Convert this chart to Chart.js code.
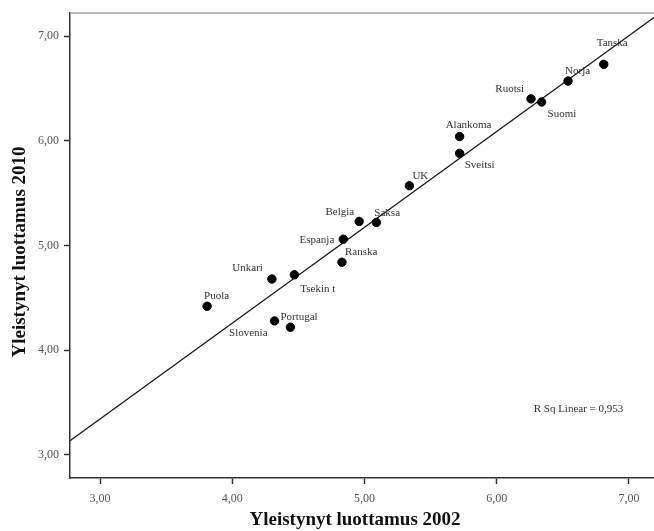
<!DOCTYPE html>
<html>
<head>
<meta charset="utf-8">
<script src="https://cdn.jsdelivr.net/npm/chart.js@4.4.1/dist/chart.umd.min.js"></script>
<style>
  html, body { margin: 0; padding: 0; background: #fff; }
  canvas { display: block; }
</style>
</head>
<body>
<canvas id="scatter" width="654" height="531"></canvas>
<script>
// values
const countries = ['Tanska', 'Norja', 'Ruotsi', 'Suomi', 'Alankoma', 'Sveitsi', 'UK', 'Belgia',
    'Saksa', 'Espanja', 'Ranska', 'Unkari', 'Tsekin t', 'Puola', 'Slovenia', 'Portugal'];
const trust2002 = [6.81, 6.54, 6.26, 6.34, 5.72, 5.72, 5.34, 4.96, 5.09, 4.84, 4.83, 4.30, 4.47, 3.81, 4.32, 4.44];
const trust2010 = [6.73, 6.57, 6.40, 6.37, 6.04, 5.88, 5.57, 5.23, 5.22, 5.06, 4.84, 4.68, 4.72, 4.42, 4.28, 4.22];
const xTickValues = [3, 4, 5, 6, 7];
const yTickValues = [3, 4, 5, 6, 7];
const rSquaredText = 'R Sq Linear = 0,953';

const X_MIN = 2.773, X_MAX = 7.19;
const Y_MIN = 2.78, Y_MAX = 7.22;

// where each country name sits next to its dot (pixels)
const labelPlacement = {
    'Tanska':   { dx: -7, dy: -21, align: 'left' },
    'Norja':    { dx: -3, dy: -10, align: 'left' },
    'Ruotsi':   { dx: -7, dy: -10, align: 'right' },
    'Suomi':    { dx: 6,  dy: 12,  align: 'left' },
    'Alankoma': { dx: -14, dy: -11, align: 'left' },
    'Sveitsi':  { dx: 5,  dy: 12,  align: 'left' },
    'UK':       { dx: 3,  dy: -10, align: 'left' },
    'Belgia':   { dx: -5, dy: -9,  align: 'right' },
    'Saksa':    { dx: -2, dy: -9,  align: 'left' },
    'Espanja':  { dx: -9, dy: 1,   align: 'right' },
    'Ranska':   { dx: 3,  dy: -10, align: 'left' },
    'Unkari':   { dx: -9, dy: -11, align: 'right' },
    'Tsekin t': { dx: 6,  dy: 14,  align: 'left' },
    'Puola':    { dx: -3, dy: -10, align: 'left' },
    'Slovenia': { dx: -7, dy: 12,  align: 'right' },
    'Portugal': { dx: -10, dy: -10, align: 'left' }
};

const points = trust2002.map((x, i) => ({ x: x, y: trust2010[i] }));

// least squares fit line
function fitLine(xs, ys) {
    const n = xs.length;
    const mx = xs.reduce((a, b) => a + b, 0) / n;
    const my = ys.reduce((a, b) => a + b, 0) / n;
    let sxy = 0, sxx = 0;
    for (let i = 0; i < n; i++) {
        sxy += (xs[i] - mx) * (ys[i] - my);
        sxx += (xs[i] - mx) * (xs[i] - mx);
    }
    const slope = sxy / sxx;
    return { slope: slope, intercept: my - slope * mx };
}
const fit = fitLine(trust2002, trust2010);
const fitPoints = [X_MIN, X_MAX].map(x => ({ x: x, y: fit.intercept + fit.slope * x }));

const fmt = v => v.toFixed(2).replace('.', ',');
const serif = '"Liberation Serif", "DejaVu Serif", serif';

const decorations = {
    id: 'decorations',
    afterDraw(chart) {
        const ctx = chart.ctx;
        const area = chart.chartArea;
        const xs = chart.scales.x, ys = chart.scales.y;
        ctx.save();

        // light top frame line
        ctx.strokeStyle = '#a8a8a8';
        ctx.lineWidth = 1.5;
        ctx.beginPath();
        ctx.moveTo(area.left, area.top);
        ctx.lineTo(area.right, area.top);
        ctx.stroke();

        // country names
        const meta = chart.getDatasetMeta(1);
        ctx.font = '11px ' + serif;
        ctx.fillStyle = '#333';
        ctx.textBaseline = 'middle';
        meta.data.forEach((el, i) => {
            const p = labelPlacement[countries[i]];
            ctx.textAlign = p.align;
            ctx.fillText(countries[i], el.x + p.dx, el.y + p.dy);
        });

        // R squared note
        ctx.textAlign = 'left';
        ctx.fillText(rSquaredText, xs.getPixelForValue(6.28), ys.getPixelForValue(3.44));

        // axis titles
        ctx.fillStyle = '#111';
        ctx.font = 'bold 19px ' + serif;
        ctx.textAlign = 'center';
        ctx.textBaseline = 'middle';
        ctx.fillText('Yleistynyt luottamus 2002', 355, 520);
        ctx.translate(20, 252);
        ctx.rotate(-Math.PI / 2);
        ctx.fillText('Yleistynyt luottamus 2010', 0, 0);
        ctx.restore();
    }
};

const axisCommon = {
    type: 'linear',
    grid: { drawOnChartArea: false, drawTicks: true, tickLength: 6, tickWidth: 1.5, color: '#333' },
    border: { display: true, color: '#333', width: 1.5 },
    ticks: {
        font: { family: serif, size: 12 },
        color: '#555',
        callback: v => fmt(v)
    }
};

new Chart(document.getElementById('scatter'), {
    type: 'scatter',
    data: {
        datasets: [
            {
                type: 'line',
                data: fitPoints,
                borderColor: '#111',
                borderWidth: 1.2,
                pointRadius: 0,
                fill: false,
                order: 2
            },
            {
                data: points,
                backgroundColor: '#000',
                borderColor: '#000',
                pointRadius: 4.2,
                pointHoverRadius: 4.2,
                order: 1
            }
        ]
    },
    options: {
        responsive: false,
        animation: false,
        layout: { autoPadding: false, padding: { top: 13, right: 0, left: 0, bottom: 0 } },
        plugins: { legend: { display: false }, tooltip: { enabled: false } },
        scales: {
            x: Object.assign({}, axisCommon, {
                min: X_MIN, max: X_MAX,
                ticks: Object.assign({}, axisCommon.ticks, { padding: 8 }),
                afterBuildTicks: s => { s.ticks = xTickValues.map(v => ({ value: v })); },
                afterFit: s => { s.height = 53; s.paddingLeft = 0; s.paddingRight = 0; }
            }),
            y: Object.assign({}, axisCommon, {
                min: Y_MIN, max: Y_MAX,
                ticks: Object.assign({}, axisCommon.ticks, { padding: 5 }),
                afterBuildTicks: s => { s.ticks = yTickValues.map(v => ({ value: v })); },
                afterFit: s => { s.width = 70; s.paddingTop = 0; s.paddingBottom = 0; }
            })
        }
    },
    plugins: [decorations]
});
</script>
</body>
</html>
